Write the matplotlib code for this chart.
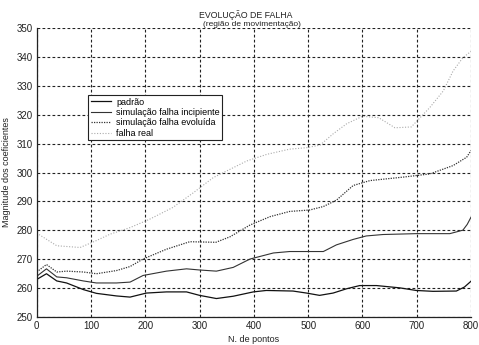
import matplotlib
matplotlib.use("Agg")
import matplotlib.pyplot as plt

plt.rcParams['font.family'] = ['Liberation Sans', 'DejaVu Sans']

# curves sampled along the point index axis
x_padrao = [0, 18, 37, 55, 86, 110, 147, 172, 202, 239, 276, 300, 331, 362, 399, 423,
            472, 497, 521, 546, 571, 595, 626, 669, 699, 730, 773, 788, 800]
y_padrao = [262.9, 264.9, 262.4, 261.7, 259.4, 258.1, 257.2, 256.8, 258.2, 258.6, 258.6,
            257.4, 256.3, 257.1, 258.6, 259.1, 258.9, 258.2, 257.4, 258.2, 259.7, 260.8,
            260.8, 260.0, 259.1, 258.8, 258.9, 260.3, 262.3]

x_incipiente = [0, 18, 37, 55, 86, 110, 147, 172, 196, 239, 276, 300, 331, 362, 393, 436,
                466, 503, 528, 552, 583, 607, 638, 699, 761, 785, 793, 800]
y_incipiente = [264.0, 266.6, 263.8, 263.5, 262.4, 261.7, 261.7, 262.0, 264.3, 265.8, 266.6,
                266.2, 265.8, 267.1, 270.0, 272.1, 272.6, 272.6, 272.6, 274.9, 276.8, 278.0,
                278.5, 278.8, 278.8, 280.0, 282.0, 284.5]

x_evoluida = [0, 18, 37, 55, 86, 110, 147, 172, 196, 239, 282, 330, 356, 393, 430, 466,
              503, 528, 552, 583, 614, 675, 724, 767, 792, 800]
y_evoluida = [265.5, 268.1, 265.5, 265.8, 265.5, 264.9, 266.0, 267.4, 270.0, 273.4, 276.0,
              275.8, 277.7, 281.8, 284.7, 286.5, 287.0, 288.2, 290.4, 295.5, 297.2, 298.4,
              299.5, 302.4, 305.3, 307.6]

x_real = [0, 37, 80, 110, 135, 172, 208, 251, 288, 325, 356, 387, 424, 466, 497, 522,
          546, 571, 600, 630, 660, 690, 724, 749, 767, 785, 800]
y_real = [279.0, 274.6, 274.0, 276.4, 278.6, 280.9, 283.8, 287.9, 292.9, 298.2, 301.1,
          304.0, 306.3, 308.1, 308.6, 309.5, 313.4, 316.9, 319.5, 319.0, 315.5, 315.8,
          322.5, 328.3, 335.2, 339.8, 342.0]

x_ticks = list(range(0, 801, 100))
y_ticks = list(range(250, 351, 10))

fig = plt.figure(figsize=(4.79, 3.45), dpi=100)
ax = fig.add_axes([0.0766, 0.082, 0.9067, 0.836])

ax.plot(x_padrao, y_padrao, color='#111111', lw=0.9, label='padrão')
ax.plot(x_incipiente, y_incipiente, color='#333333', lw=0.8, label='simulação falha incipiente')
ax.plot(x_evoluida, y_evoluida, color='#333333', lw=0.9, ls=(0, (1, 1)),
        label='simulação falha evoluída')
ax.plot(x_real, y_real, color='#ababab', lw=0.8, ls=(0, (1, 1.5)), label='falha real')

ax.set_xlim(0, 800)
ax.set_ylim(250, 350)
ax.set_xticks(x_ticks)
ax.set_yticks(y_ticks)
ax.grid(True, color='#222222', lw=0.8, ls=(0, (2.5, 2)))
ax.set_axisbelow(True)
for side in ('top', 'right'):
    ax.spines[side].set_visible(False)
for side in ('left', 'bottom'):
    ax.spines[side].set_color('#222222')
    ax.spines[side].set_linewidth(0.9)
ax.tick_params(length=0, labelsize=7, colors='#222222', pad=3)

ax.set_xlabel('N. de pontos', fontsize=6.5, color='#222222', labelpad=3)
ax.set_ylabel('Magnitude dos coeficientes', fontsize=6.5, color='#222222', labelpad=4)
fig.text(0.514, 0.957, 'EVOLUÇÃO DE FALHA', ha='center', va='center', fontsize=6.3,
         color='#222222')
fig.text(0.525, 0.929, '(região de movimentação)', ha='center', va='center', fontsize=6,
         color='#222222')

leg = ax.legend(loc='upper left', bbox_to_anchor=(0.118, 0.769), fontsize=6.5,
                fancybox=False, framealpha=1, edgecolor='#222222', handlelength=2.2,
                borderpad=0.3, labelspacing=0.15, handletextpad=0.6, borderaxespad=0)
leg.get_frame().set_linewidth(0.8)

fig.savefig('out.png', dpi=100)
